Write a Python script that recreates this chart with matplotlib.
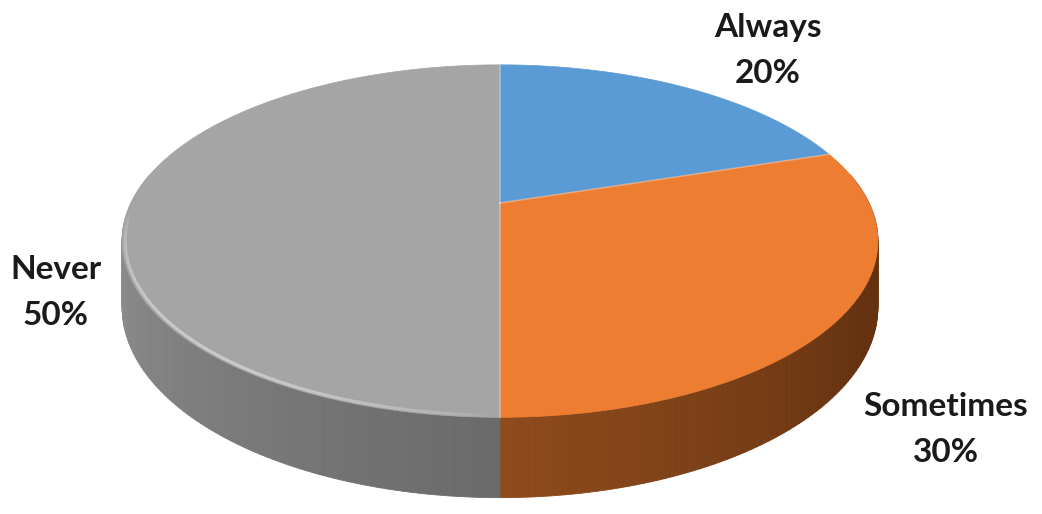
import numpy as np
import matplotlib.pyplot as plt
from matplotlib.colors import to_rgb
from matplotlib.collections import LineCollection

# Data
labels = ['Always', 'Sometimes', 'Never']
values = [20, 30, 50]
top_colors = ['#5B9BD5', '#ED7D31', '#A5A5A5']
wall_light = ['#3f6f9c', '#8e4b1c', '#8e8e8e']
wall_dark = ['#2f5a80', '#653210', '#6a6a6a']

# label anchors (pixel coords, baseline of name line)
label_pos = [(768, 37), (946, 416), (56, 279)]

# Pie geometry in pixels (perspective projected disk)
CX, CY = 500, 203
A, B, K = 369, 168, 0.216
H = 63


def project(t, down=0.0, r=1.0):
    u = r * np.cos(t)
    v = r * np.sin(t)
    w = 1 + K * v
    return CX + A * u / w, CY - (B * v - H * down) / w


fig = plt.figure(figsize=(10.42, 5.14), dpi=100)
ax = fig.add_axes([0, 0, 1, 1])
ax.set_xlim(0, 1042)
ax.set_ylim(514, 0)
ax.axis('off')

# angles: start at top, clockwise
fracs = np.array(values) / sum(values)
bounds = 90 - 360 * np.concatenate([[0], np.cumsum(fracs)])
slices = [(bounds[i + 1], bounds[i]) for i in range(len(values))]

# walls: only the front half (180..360 deg) shows
for i, (a0, a1) in enumerate(slices):
    lo = a0 % 360 if a0 % 360 >= 90 else a0 % 360 + 360
    hi = lo + (a1 - a0)
    seg_lo = max(lo, 170)
    seg_hi = min(hi, 370)
    if seg_hi <= seg_lo:
        continue
    c_l = np.array(to_rgb(wall_light[i]))
    c_d = np.array(to_rgb(wall_dark[i]))
    steps = np.arange(seg_lo, seg_hi, 1.0)
    steps = np.append(steps, seg_hi)
    for j in range(len(steps) - 1):
        t0, t1 = np.radians(steps[j]), np.radians(steps[j + 1])
        mid = (steps[j] + steps[j + 1]) / 2
        if i == 2:
            f = np.clip((mid - 190) / 80, 0, 1)
        else:
            f = np.clip((mid - 270) / 60, 0, 1)
        col = c_l * (1 - f) + c_d * f
        x0, y0 = project(t0)
        x1, y1 = project(t1)
        x2, y2 = project(t1, 1)
        x3, y3 = project(t0, 1)
        ax.fill([x0, x1, x2, x3], [y0, y1, y2, y3], color=col, lw=0.6, ec=col)

# top faces
for i, (a0, a1) in enumerate(slices):
    t = np.radians(np.linspace(a0, a1, 200))
    xs, ys = project(t)
    xs = np.concatenate([[CX], xs])
    ys = np.concatenate([[CY], ys])
    ax.fill(xs, ys, color=top_colors[i], lw=0.5, ec=top_colors[i])

# soft rim highlight on the front edge of the gray top (fades at both ends)
t = np.radians(np.linspace(183, 269, 160))
xs, ys = project(t, r=0.992)
pts = np.column_stack([xs, ys]).reshape(-1, 1, 2)
segs = np.concatenate([pts[:-1], pts[1:]], axis=1)
pos = np.linspace(0, 1, len(segs))
alph = 0.75 * np.sin(np.pi * pos) ** 0.6
rim_cols = [(0.85, 0.85, 0.85, a) for a in alph]
ax.add_collection(LineCollection(segs, colors=rim_cols, linewidths=2.2))

# faint slice separators
for a in bounds[:-1]:
    xe, ye = project(np.radians(a))
    ax.plot([CX, xe], [CY, ye], color='white', lw=1.2, alpha=0.3)

# labels
for i, name in enumerate(labels):
    x, y = label_pos[i]
    ax.text(x, y, name, ha='center', va='baseline', fontsize=24,
            fontweight='bold', family='Lato', color='#1a1a1a')
    ax.text(x, y + 46, f'{values[i]}%', ha='center', va='baseline',
            fontsize=24, fontweight='bold', family='Lato', color='#1a1a1a')

fig.savefig('out.png', dpi=100, facecolor='white')
